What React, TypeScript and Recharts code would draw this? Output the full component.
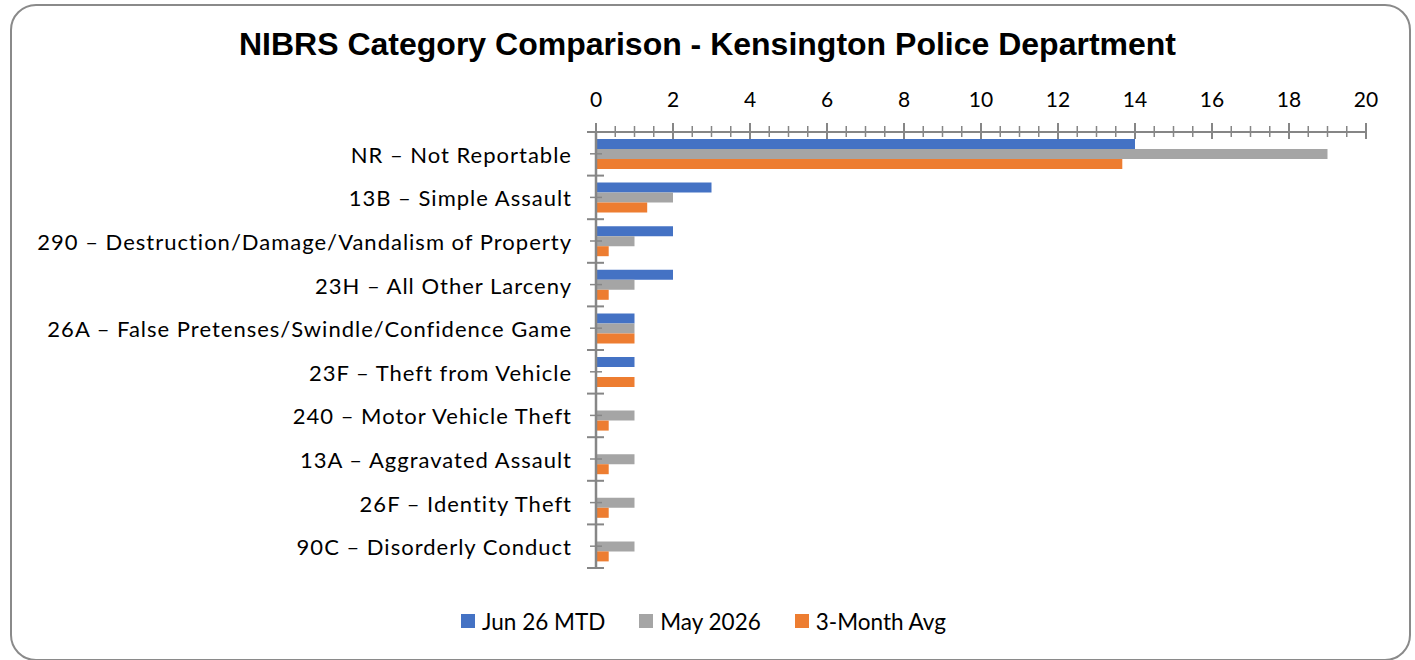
import React from 'react';
import { BarChart, Bar, XAxis, YAxis, Legend } from 'recharts';

const categories = [
  'NR – Not Reportable',
  '13B – Simple Assault',
  '290 – Destruction/Damage/Vandalism of Property',
  '23H – All Other Larceny',
  '26A – False Pretenses/Swindle/Confidence Game',
  '23F – Theft from Vehicle',
  '240 – Motor Vehicle Theft',
  '13A – Aggravated Assault',
  '26F – Identity Theft',
  '90C – Disorderly Conduct',
];
const jun26Mtd = [14, 3, 2, 2, 1, 1, 0, 0, 0, 0];
const may2026 = [19, 2, 1, 1, 1, 0, 1, 1, 1, 1];
const threeMonthAvg = [13.67, 1.33, 0.33, 0.33, 1, 1, 0.33, 0.33, 0.33, 0.33];

const seriesKeys = ['jun', 'may', 'avg'];
const seriesNames = ['Jun 26 MTD', 'May 2026', '3-Month Avg'];
const seriesColors = ['#4472C4', '#A5A5A5', '#ED7D31'];

const majorTicks = [0, 2, 4, 6, 8, 10, 12, 14, 16, 18, 20];
const minorTicks = [0.5, 1, 1.5, 2.5, 3, 3.5, 4.5, 5, 5.5, 6.5, 7, 7.5, 8.5, 9, 9.5, 10.5, 11, 11.5, 12.5, 13, 13.5, 14.5, 15, 15.5, 16.5, 17, 17.5, 18.5, 19, 19.5];
const allTicks = [...majorTicks, ...minorTicks].sort((a, b) => a - b);

const data = categories.map((name, i) => ({
  name,
  jun: jun26Mtd[i],
  may: may2026[i],
  avg: threeMonthAvg[i],
}));

const W = 1415;
const H = 660;
const MARGIN = { top: 80, right: 49, bottom: 62, left: 0 };
const X_AXIS_H = 52;
const LEGEND_H = 30;
const PLOT_H = H - MARGIN.top - X_AXIS_H - MARGIN.bottom - LEGEND_H;
const HALF_BAND = PLOT_H / categories.length / 2;

const AXIS_COLOR = '#868686';
const FONT = 'Lato, "Open Sans", sans-serif';

const XTick = (props: any) => {
  const { x, y, payload } = props;
  const v = payload.value;
  const major = majorTicks.includes(v);
  return (
    <g>
      <line x1={x} x2={x} y1={major ? y - 9 : y - 6} y2={major ? y + 7 : y + 5} stroke={AXIS_COLOR} strokeWidth={major ? 2 : 1.5} />
      {major && (
        <text x={x} y={y - 25} textAnchor="middle" fontFamily={FONT} fontSize={21} fill="#000">
          {v}
        </text>
      )}
    </g>
  );
};

const YTick = (props: any) => {
  const { x, y, payload, index } = props;
  const last = index === categories.length - 1;
  return (
    <g>
      <line x1={x - 9} x2={x + 8} y1={y - HALF_BAND} y2={y - HALF_BAND} stroke={AXIS_COLOR} strokeWidth={2} />
      {last && <line x1={x - 9} x2={x + 8} y1={y + HALF_BAND} y2={y + HALF_BAND} stroke={AXIS_COLOR} strokeWidth={2} />}
      <line x1={x - 6} x2={x + 6} y1={y} y2={y} stroke={AXIS_COLOR} strokeWidth={1.5} />
      <text x={x - 24} y={y} dy={9} textAnchor="end" fontFamily={FONT} fontSize={22} letterSpacing={1} fill="#000">
        {payload.value}
      </text>
    </g>
  );
};

const LegendContent = () => {
  return (
    <div style={{ display: 'flex', justifyContent: 'center', alignItems: 'center', height: LEGEND_H, paddingRight: 8 }}>
      {seriesNames.map((name, i) => (
        <div key={name} style={{ display: 'flex', alignItems: 'center', marginRight: i < seriesNames.length - 1 ? 34 : 0 }}>
          <div style={{ width: 14, height: 14, background: seriesColors[i], marginRight: 7 }} />
          <span style={{ fontFamily: FONT, fontSize: 22.5, color: '#000' }}>{name}</span>
        </div>
      ))}
    </div>
  );
};

export default function App() {
  return (
    <div style={{ position: 'absolute', left: 0, top: 0, width: W, height: H, background: '#fff', overflow: 'hidden' }}>
      <div
        style={{
          position: 'absolute',
          left: 10,
          top: 4,
          width: 1397,
          height: 653,
          border: '2px solid #8a8a8a',
          borderRadius: 26,
        }}
      />
      <div
        style={{
          position: 'absolute',
          left: 0,
          top: 24,
          width: 1415,
          textAlign: 'center',
          fontFamily: '"Liberation Sans", Arial, sans-serif',
          fontWeight: 'bold',
          fontSize: 32,
          lineHeight: '40px',
          color: '#000',
        }}
      >
        NIBRS Category Comparison - Kensington Police Department
      </div>
      <div style={{ position: 'absolute', left: 0, top: 0 }}>
        <BarChart width={W} height={H} data={data} layout="vertical" margin={MARGIN} barSize={10} barGap={0}>
          <XAxis
            xAxisId={0}
            type="number"
            orientation="top"
            domain={[0, 20]}
            ticks={allTicks}
            interval={0}
            height={X_AXIS_H}
            tickSize={0}
            tickMargin={0}
            tickLine={false}
            axisLine={{ stroke: AXIS_COLOR, strokeWidth: 2 }}
            tick={<XTick />}
          />
          <YAxis
            type="category"
            dataKey="name"
            width={596}
            interval={0}
            tickSize={0}
            tickMargin={0}
            tickLine={false}
            axisLine={{ stroke: AXIS_COLOR, strokeWidth: 2.5 }}
            tick={<YTick />}
          />
          <Legend
            verticalAlign="bottom"
            height={LEGEND_H}
            content={<LegendContent />}
            wrapperStyle={{ top: 606, bottom: 'auto', left: 0, width: W }}
          />
          {seriesKeys.map((k, i) => (
            <Bar key={k} dataKey={k} name={seriesNames[i]} fill={seriesColors[i]} isAnimationActive={false} />
          ))}
        </BarChart>
      </div>
    </div>
  );
}
